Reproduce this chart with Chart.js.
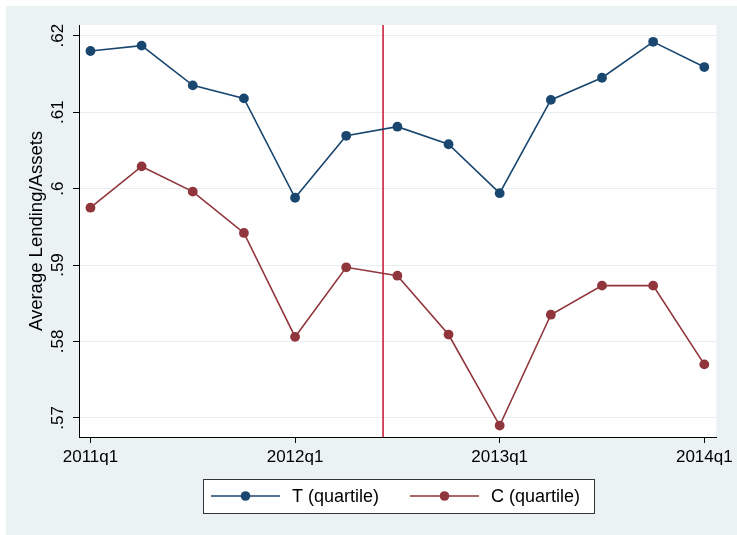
<!DOCTYPE html>
<html><head><meta charset="utf-8">
<script src="https://cdn.jsdelivr.net/npm/chart.js@4.4.1/dist/chart.umd.min.js"></script>
<style>html,body{margin:0;padding:0;background:#fff;}#wrap{position:absolute;left:0;top:0;width:737px;height:535px;}</style>
</head><body><div id="wrap"><canvas id="c" width="737" height="535"></canvas></div>
<script>
const quarters = ['2011q1','2011q2','2011q3','2011q4','2012q1','2012q2','2012q3','2012q4','2013q1','2013q2','2013q3','2013q4','2014q1'];
const seriesT = [0.6180, 0.6187, 0.6135, 0.6118, 0.5988, 0.6069, 0.6081, 0.6058, 0.5994, 0.6116, 0.6145, 0.6192, 0.6159];
const seriesC = [0.5975, 0.6029, 0.5996, 0.5942, 0.5806, 0.5897, 0.5886, 0.5809, 0.5690, 0.5835, 0.5873, 0.5873, 0.5770];
const seriesNames = ['T (quartile)', 'C (quartile)'];
const xTickIndex = [0, 4, 8, 12];
const yTicks = [0.57, 0.58, 0.59, 0.60, 0.61, 0.62];
const yTickLabels = ['.57', '.58', '.59', '.6', '.61', '.62'];
const eventQuarter = 5.72;
const yTitle = 'Average Lending/Assets';

const FONT = 'Liberation Sans, Arial, Helvetica, sans-serif';
const BLUE = '#1a476f', RED = '#90353b', VLINE = '#c4122f';

const bgPlugin = {
  id: 'bg',
  beforeDraw(chart) {
    const {ctx, chartArea: a} = chart;
    ctx.save();
    ctx.fillStyle = '#ffffff';
    ctx.fillRect(0, 0, chart.width, chart.height);
    ctx.fillStyle = '#eaf2f3';
    ctx.fillRect(6, 6, chart.width - 6, chart.height - 6);
    ctx.fillStyle = '#ffffff';
    ctx.fillRect(a.left, a.top, a.right - a.left, a.bottom - a.top);
    ctx.restore();
  }
};
const vlinePlugin = {
  id: 'vline',
  beforeDatasetsDraw(chart) {
    const {ctx, chartArea: a, scales} = chart;
    const x = scales.x.getPixelForValue(eventQuarter);
    ctx.save();
    ctx.strokeStyle = VLINE;
    ctx.lineWidth = 1.5;
    ctx.beginPath();
    ctx.moveTo(x, a.top);
    ctx.lineTo(x, a.bottom);
    ctx.stroke();
    ctx.restore();
  }
};
const legendPlugin = {
  id: 'boxLegend',
  afterDraw(chart) {
    const {ctx} = chart;
    ctx.save();
    ctx.fillStyle = '#ffffff';
    ctx.fillRect(203, 479, 391, 34);
    ctx.strokeStyle = '#333333';
    ctx.lineWidth = 1;
    ctx.strokeRect(203.5, 479.5, 391, 34);
    const starts = [211, 410];
    const cy = 496;
    chart.data.datasets.forEach((ds, i) => {
      const lx = starts[i];
      ctx.strokeStyle = ds.borderColor;
      ctx.lineWidth = 1.5;
      ctx.beginPath();
      ctx.moveTo(lx, cy);
      ctx.lineTo(lx + 69, cy);
      ctx.stroke();
      ctx.fillStyle = ds.pointBackgroundColor;
      ctx.beginPath();
      ctx.arc(lx + 34.5, cy, 4.8, 0, Math.PI * 2);
      ctx.fill();
      ctx.fillStyle = '#000';
      ctx.font = '18px ' + FONT;
      ctx.textBaseline = 'middle';
      ctx.textAlign = 'left';
      ctx.fillText(ds.label, lx + 81, cy + 1);
    });
    ctx.restore();
  }
};

const mk = (vals) => vals.map((v, i) => ({x: i, y: v}));

new Chart(document.getElementById('c'), {
  type: 'line',
  data: {
    datasets: [
      {label: seriesNames[0], data: mk(seriesT), borderColor: BLUE, backgroundColor: BLUE, pointBackgroundColor: BLUE, pointBorderColor: BLUE, pointRadius: 4.9, pointBorderWidth: 0, borderWidth: 1.6, tension: 0},
      {label: seriesNames[1], data: mk(seriesC), borderColor: RED, backgroundColor: RED, pointBackgroundColor: RED, pointBorderColor: RED, pointRadius: 4.9, pointBorderWidth: 0, borderWidth: 1.6, tension: 0}
    ]
  },
  options: {
    responsive: false,
    animation: false,
    devicePixelRatio: 1,
    layout: {padding: {left: 0, top: 25, right: 18, bottom: 0}},
    plugins: {legend: {display: false}, tooltip: {enabled: false}},
    scales: {
      x: {
        type: 'linear', position: 'bottom', min: -0.224, max: 12.234,
        afterBuildTicks: (s) => { s.ticks = xTickIndex.map(v => ({value: v})); },
        afterFit: (s) => { s.height = 98; },
        ticks: {callback: (v) => quarters[v], color: '#000', font: {family: FONT, size: 17}, padding: 4, maxRotation: 0, minRotation: 0, autoSkip: false},
        grid: {drawOnChartArea: false, drawTicks: true, tickLength: 6, tickColor: '#000', tickWidth: 1},
        border: {display: true, color: '#000', width: 1}
      },
      y: {
        min: 0.5675, max: 0.6214,
        afterBuildTicks: (s) => { s.ticks = yTicks.map(v => ({value: v})); },
        afterFit: (s) => { s.width = 79; },
        ticks: {callback: (v) => yTickLabels[yTicks.findIndex(t => Math.abs(t - v) < 1e-9)], color: '#000', font: {family: FONT, size: 17}, padding: 3, minRotation: 90, maxRotation: 90, crossAlign: 'center', autoSkip: false},
        grid: {color: '#e6eef0', lineWidth: 1, drawTicks: true, tickLength: 6, tickColor: '#000', tickWidth: 1},
        border: {display: true, color: '#000', width: 1},
        title: {display: true, text: yTitle, color: '#000', font: {family: FONT, size: 18.5}, padding: {top: 26, bottom: 0}}
      }
    }
  },
  plugins: [bgPlugin, vlinePlugin, legendPlugin]
});
</script></body></html>
